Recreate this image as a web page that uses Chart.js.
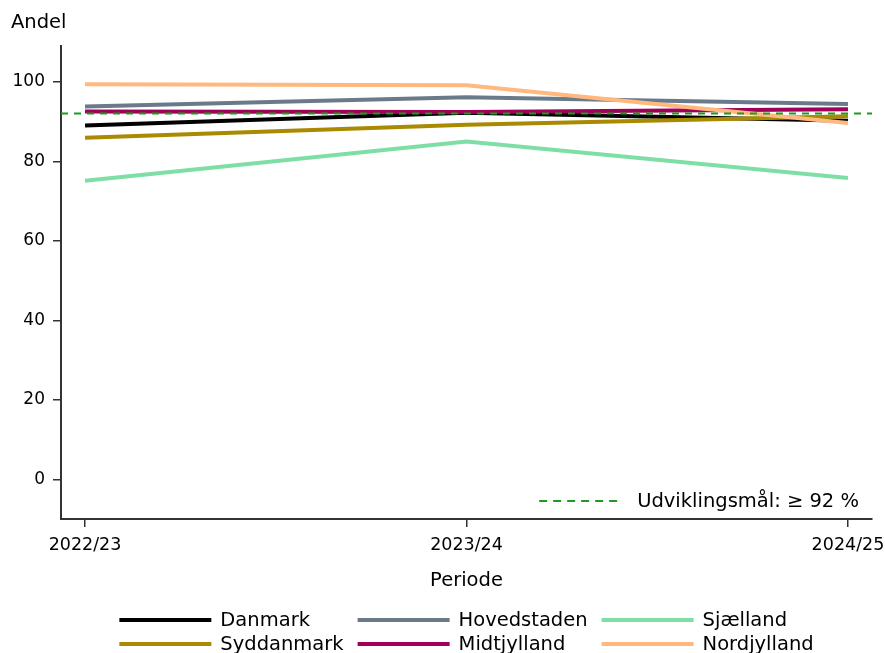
<!DOCTYPE html>
<html>
<head>
<meta charset="utf-8">
<script src="https://cdn.jsdelivr.net/npm/chart.js@4"></script>
<style>
  body { margin: 0; background: #fff; }
</style>
</head>
<body>
<canvas id="andelChart" width="885" height="653"></canvas>
<script>
const periods = ['2022/23', '2023/24', '2024/25'];
const regions = ['Danmark', 'Hovedstaden', 'Sjælland', 'Syddanmark', 'Midtjylland', 'Nordjylland'];

const danmark = [89.0, 92.2, 90.2];
const hovedstaden = [93.8, 96.1, 94.4];
const sjaelland = [75.1, 85.0, 75.8];
const syddanmark = [85.9, 89.2, 91.3];
const midtjylland = [92.5, 92.4, 93.1];
const nordjylland = [99.4, 99.1, 89.6];

const yTicks = [0, 20, 40, 60, 80, 100];
const goal = 92;
const goalLabel = 'Udviklingsmål: ≥ 92 %';

const colors = ['#000000', '#6b7a8b', '#7fdea6', '#a98a00', '#a0005a', '#ffb87e'];
const series = [danmark, hovedstaden, sjaelland, syddanmark, midtjylland, nordjylland];

const xMin = -0.063, xMax = 2.063;
const FONT = 'DejaVu Sans';

const datasets = series.map((vals, i) => ({
  label: regions[i],
  data: vals.map((v, j) => ({ x: j, y: v })),
  borderColor: colors[i],
  borderWidth: 4,
  pointRadius: 0,
  fill: false,
  order: 6 - i
}));

datasets.push({
  label: 'goal',
  data: [{ x: xMin, y: goal }, { x: xMax, y: goal }],
  borderColor: '#1f9a1f',
  borderWidth: 2,
  borderDash: [7, 6],
  pointRadius: 0,
  order: 0
});

// extra text, goal note and the 3-column legend
const extras = {
  id: 'extras',
  afterDraw(chart) {
    const ctx = chart.ctx;
    const area = chart.chartArea;
    ctx.save();
    ctx.fillStyle = '#000';
    ctx.textBaseline = 'alphabetic';
    ctx.font = '19.5px "' + FONT + '"';
    ctx.fillText('Andel', 11, 28);

    // goal note
    const tw = ctx.measureText(goalLabel).width;
    const tx = area.right - 13 - tw;
    const ty = area.bottom - 12;
    ctx.fillText(goalLabel, tx, ty);
    ctx.strokeStyle = '#1f9a1f';
    ctx.lineWidth = 2;
    ctx.setLineDash([8, 6]);
    ctx.beginPath();
    ctx.moveTo(tx - 98, ty - 6);
    ctx.lineTo(tx - 14, ty - 6);
    ctx.stroke();
    ctx.setLineDash([]);

    // legend
    const lineLen = 92, gap = 9, colGap = 14;
    const rows = [620, 644];
    const cols = [];
    for (let c = 0; c < 3; c++) {
      const w = Math.max(ctx.measureText(regions[c]).width, ctx.measureText(regions[c + 3]).width);
      cols.push(lineLen + gap + w);
    }
    const total = cols[0] + cols[1] + cols[2] + 2 * colGap;
    let x = (area.left + area.right) / 2 - total / 2;
    ctx.textBaseline = 'middle';
    for (let c = 0; c < 3; c++) {
      for (let r = 0; r < 2; r++) {
        const idx = r * 3 + c;
        ctx.strokeStyle = colors[idx];
        ctx.lineWidth = 4;
        ctx.beginPath();
        ctx.moveTo(x, rows[r]);
        ctx.lineTo(x + lineLen, rows[r]);
        ctx.stroke();
        ctx.fillText(regions[idx], x + lineLen + gap, rows[r] + 1);
      }
      x += cols[c] + colGap;
    }
    ctx.restore();
  }
};

new Chart(document.getElementById('andelChart').getContext('2d'), {
  type: 'line',
  data: { datasets: datasets },
  options: {
    responsive: false,
    animation: false,
    layout: { padding: { top: 46, right: 13, bottom: 54, left: 0 } },
    plugins: {
      legend: { display: false },
      tooltip: { enabled: false }
    },
    scales: {
      x: {
        type: 'linear',
        min: xMin,
        max: xMax,
        afterBuildTicks: axis => { axis.ticks = periods.map((p, i) => ({ value: i })); },
        afterFit: axis => {
          axis.height = 80;
          axis.paddingLeft = 0;
          axis.paddingRight = 0;
        },
        ticks: {
          callback: v => periods[v],
          color: '#000',
          font: { family: FONT, size: 17.5 },
          padding: 8,
          maxRotation: 0
        },
        grid: { drawOnChartArea: false, tickLength: 8, color: '#333', lineWidth: 1.5 },
        border: { color: '#333', width: 2 },
        title: {
          display: true,
          text: 'Periode',
          color: '#000',
          font: { family: FONT, size: 19.5 },
          padding: { top: 4, bottom: 6 }
        }
      },
      y: {
        min: -10,
        max: 109,
        afterBuildTicks: axis => { axis.ticks = yTicks.map(v => ({ value: v })); },
        afterFit: axis => { axis.width = 61; },
        ticks: {
          color: '#000',
          font: { family: FONT, size: 17 },
          padding: 8
        },
        grid: { drawOnChartArea: false, tickLength: 8, color: '#333', lineWidth: 1.5 },
        border: { color: '#333', width: 2 }
      }
    }
  },
  plugins: [extras]
});
</script>
</body>
</html>
